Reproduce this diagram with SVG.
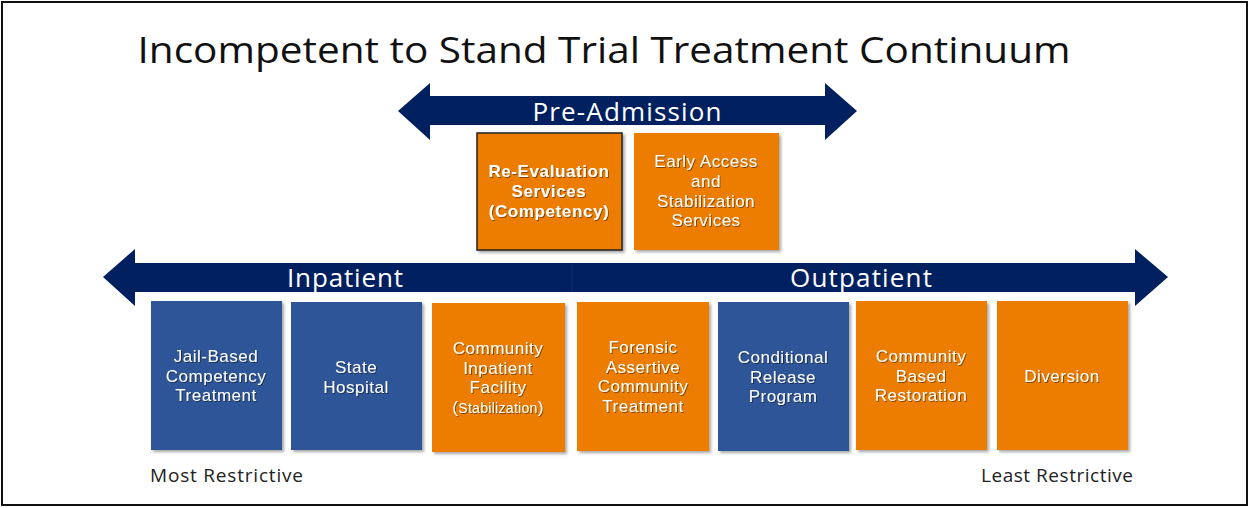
<svg xmlns="http://www.w3.org/2000/svg" width="1249" height="508" viewBox="0 0 1249 508">
<defs>
<filter id="sh" x="-10%" y="-10%" width="125%" height="125%">
<feDropShadow dx="2" dy="2" stdDeviation="1.5" flood-color="#000" flood-opacity="0.35"/>
</filter>
<filter id="tsh" x="-10%" y="-20%" width="120%" height="150%">
<feDropShadow dx="1" dy="1" stdDeviation="0.6" flood-color="#000" flood-opacity="0.45"/>
</filter>
</defs>
<style>
.title{font-family:"Open Sans","Liberation Sans",sans-serif;font-size:36px;fill:#111;}
.band{font-family:"Open Sans","Liberation Sans",sans-serif;font-size:26px;fill:#fff;text-anchor:middle;}
.lbl{font-family:"Liberation Sans",Arial,sans-serif;font-size:17px;letter-spacing:0.5px;fill:#fff;text-anchor:middle;filter:url(#tsh);}
.small{font-size:14px;letter-spacing:0.3px;}
.bold{font-weight:bold;letter-spacing:0.6px;}
.foot{font-family:"Open Sans","Liberation Sans",sans-serif;font-size:19px;fill:#222;}
.arrow{fill:#002060;}
.orange{fill:#ED7D01;filter:url(#sh);}
.blue{fill:#2F5597;filter:url(#sh);}
</style>
<rect x="0" y="0" width="1249" height="508" fill="#fff"/>
<rect x="2" y="2" width="1245" height="503" fill="#fff" stroke="#111" stroke-width="2"/>
<text class="title" x="604" y="63" text-anchor="middle" textLength="933" lengthAdjust="spacingAndGlyphs">Incompetent to Stand Trial Treatment Continuum</text>

<g id="connectors">
<polygon class="arrow" points="398,111 430,83 430,96 825,96 825,83 857,111 825,140 825,125 430,125 430,140"/>
<polygon class="arrow" points="103,277 135,249 135,263 1135,263 1135,249 1168,277 1135,306 1135,292 135,292 135,306"/>
<line x1="572" y1="264" x2="572" y2="291" stroke="#12306a" stroke-width="1"/>
</g>

<g id="pre-admission"><text class="band" x="627" y="121" textLength="189">Pre-Admission</text></g>
<g id="inpatient"><text class="band" x="345" y="287" textLength="116">Inpatient</text></g>
<g id="outpatient"><text class="band" x="861" y="287" textLength="142">Outpatient</text></g>

<g id="re-evaluation">
<rect x="477" y="133" width="145" height="117" fill="#ED7D01" stroke="#222" stroke-width="1.5" filter="url(#sh)"/>
<text class="lbl bold" x="549" y="177">Re-Evaluation</text>
<text class="lbl bold" x="549" y="197">Services</text>
<text class="lbl bold" x="549" y="217">(Competency)</text>
</g>
<g id="early-access">
<rect class="orange" x="634" y="133" width="145" height="117"/>
<text class="lbl" x="706" y="167">Early Access</text>
<text class="lbl" x="706" y="187">and</text>
<text class="lbl" x="706" y="207">Stabilization</text>
<text class="lbl" x="706" y="226">Services</text>
</g>

<g id="jail-based">
<rect class="blue" x="151" y="301" width="131" height="149"/>
<text class="lbl" x="216" y="362">Jail-Based</text>
<text class="lbl" x="216" y="382">Competency</text>
<text class="lbl" x="216" y="401">Treatment</text>
</g>
<g id="state-hospital">
<rect class="blue" x="291" y="302" width="131" height="148"/>
<text class="lbl" x="356" y="373">State</text>
<text class="lbl" x="356" y="393">Hospital</text>
</g>
<g id="community-inpatient">
<rect class="orange" x="432" y="303" width="133" height="149"/>
<text class="lbl" x="498" y="354">Community</text>
<text class="lbl" x="498" y="374">Inpatient</text>
<text class="lbl" x="498" y="393">Facility</text>
<text class="lbl" x="498" y="413"><tspan>(</tspan><tspan class="small">Stabilization</tspan><tspan>)</tspan></text>
</g>
<g id="forensic">
<rect class="orange" x="577" y="302" width="132" height="149"/>
<text class="lbl" x="643" y="353">Forensic</text>
<text class="lbl" x="643" y="373">Assertive</text>
<text class="lbl" x="643" y="392">Community</text>
<text class="lbl" x="643" y="412">Treatment</text>
</g>
<g id="conditional-release">
<rect class="blue" x="718" y="302" width="131" height="149"/>
<text class="lbl" x="783" y="363">Conditional</text>
<text class="lbl" x="783" y="383">Release</text>
<text class="lbl" x="783" y="402">Program</text>
</g>
<g id="community-based">
<rect class="orange" x="856" y="301" width="131" height="149"/>
<text class="lbl" x="921" y="362">Community</text>
<text class="lbl" x="921" y="382">Based</text>
<text class="lbl" x="921" y="401">Restoration</text>
</g>
<g id="diversion">
<rect class="orange" x="997" y="301" width="131" height="149"/>
<text class="lbl" x="1062" y="382">Diversion</text>
</g>

<text class="foot" x="150" y="482" textLength="153">Most Restrictive</text>
<text class="foot" x="981" y="482" textLength="152">Least Restrictive</text>
</svg>
